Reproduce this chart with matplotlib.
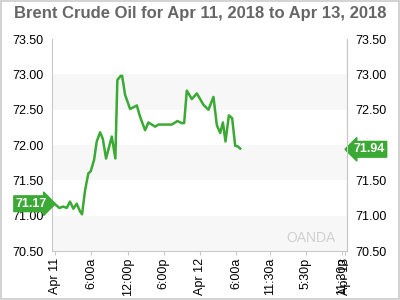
import matplotlib
matplotlib.use("Agg")
import matplotlib.pyplot as plt
import matplotlib.transforms as mtransforms
from matplotlib.patches import Rectangle
import pandas as pd

plt.rcParams["font.family"] = ["Liberation Sans", "DejaVu Sans"]

title = "Brent Crude Oil for Apr 11, 2018 to Apr 13, 2018"
hours = [0.05, 0.71, 1.37, 1.94, 2.48, 3.03, 3.59, 4.14, 4.47, 4.97, 5.51, 5.91,
         6.46, 6.90, 7.45, 7.90, 8.44, 9.39, 9.98, 10.31, 10.88, 11.1, 11.59,
         12.42, 13.53, 14.07, 14.90, 15.45, 16.56, 17.10, 19.32, 20.25, 20.98,
         21.36, 21.80, 22.63, 23.46, 24.55, 25.38, 26.21, 26.77, 27.32, 27.77,
         28.20, 28.76, 29.30, 29.80, 30.25, 30.63]
prices = [71.16, 71.11, 71.13, 71.11, 71.20, 71.10, 71.17, 71.06, 71.02, 71.36,
          71.60, 71.63, 71.79, 72.05, 72.18, 72.09, 71.81, 72.12, 71.81, 72.92,
          72.98, 72.98, 72.71, 72.51, 72.56, 72.40, 72.21, 72.32, 72.26, 72.29,
          72.29, 72.34, 72.31, 72.31, 72.77, 72.65, 72.73, 72.57, 72.50, 72.68,
          72.28, 72.17, 72.32, 72.05, 72.42, 72.38, 71.99, 71.98, 71.95]
yticks = [70.50, 71.00, 71.50, 72.00, 72.50, 73.00, 73.50]
yticks_right = [70.50, 71.00, 71.50, 72.50, 73.00, 73.50]
xtick_hours = [0, 6, 12, 18, 24, 30, 35.5, 41.5, 47.5, 48]
xtick_labels = ["Apr 11", "6:00a", "12:00p", "6:00p", "Apr 12", "6:00a",
                "11:30a", "5:30p", "11:30p", "Apr 13"]
open_price = 71.17
last_price = 71.94

green = "#3aaa35"
start = pd.Timestamp("2018-04-11 00:00")
times = [start + pd.Timedelta(hours=h) for h in hours]
xt = [start + pd.Timedelta(hours=h) for h in xtick_hours]

fig = plt.figure(figsize=(4, 3), dpi=100)
fig.patches.append(Rectangle((0.002, 0.003), 0.995, 0.994, transform=fig.transFigure,
                             fill=False, edgecolor="#cccccc", linewidth=1.2))
ax = fig.add_axes([0.13, 0.163, 0.7375, 0.707])
ax.set_ylim(70.5, 73.5)
ax.set_xlim(start + pd.Timedelta(hours=-0.5), start + pd.Timedelta(hours=48.3))
for lo in [70.5, 71.5, 72.5]:
    ax.axhspan(lo, lo + 0.5, color="#f7f7f7", zorder=0, lw=0)

ax.plot(times, prices, color=green, lw=1.8, zorder=3)

ax.spines["top"].set_visible(False)
for s in ["left", "right", "bottom"]:
    ax.spines[s].set_color("#c8c8c8")

ax.set_yticks(yticks)
ax.set_yticklabels([f"{v:.2f}" for v in yticks])
ax.tick_params(axis="y", which="both", length=0, labelsize=9, pad=6)

axr = ax.twinx()
axr.set_ylim(ax.get_ylim())
axr.set_yticks(yticks_right)
axr.set_yticklabels([f"{v:.2f}" for v in yticks_right])
axr.tick_params(axis="y", length=0, labelsize=9, pad=6)
for s in ["top", "left", "bottom"]:
    axr.spines[s].set_visible(False)
axr.spines["right"].set_color("#c8c8c8")

ax.set_xticks(xt)
ax.set_xticklabels(xtick_labels, rotation=90)
ax.tick_params(axis="x", length=3, color="#c8c8c8", labelsize=9, pad=2)

fig.text(0.5, 0.955, title, ha="center", va="center", fontsize=12,
         fontweight="bold", color="#666666")

trans = mtransforms.blended_transform_factory(ax.transAxes, ax.transData)
ax.text(-0.07, open_price, f"{open_price:.2f}", transform=trans, ha="center",
        va="center", color="white", fontsize=9, fontweight="bold",
        bbox=dict(boxstyle="rarrow,pad=0.15", fc=green, ec=green), clip_on=False)
ax.text(1.075, last_price, f"{last_price:.2f}", transform=trans, ha="center",
        va="center", color="white", fontsize=9, fontweight="bold",
        bbox=dict(boxstyle="larrow,pad=0.15", fc=green, ec=green), clip_on=False,
        zorder=10)

ax.text(0.96, 0.06, "OANDA", transform=ax.transAxes, ha="right", va="center",
        color="#d0d0d0", fontsize=10)

fig.savefig("out.png", dpi=100)
